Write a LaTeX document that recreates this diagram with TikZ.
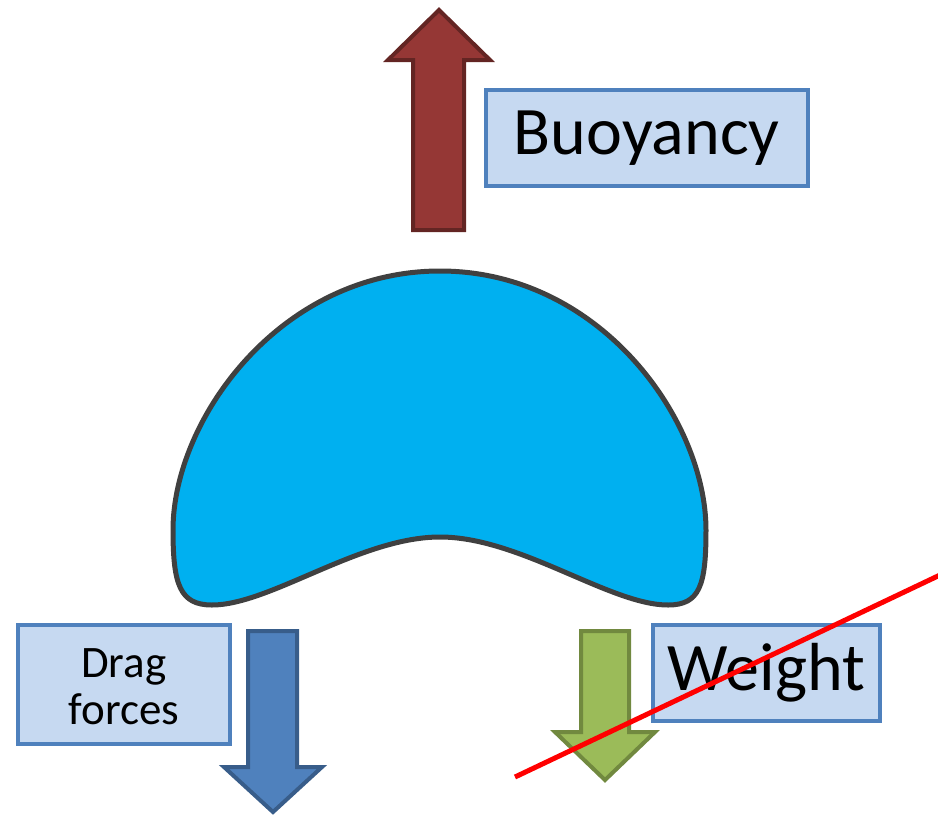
\documentclass[tikz,border=0pt]{standalone}
\usepackage{fontspec}
\setmainfont{Carlito}
\definecolor{boxfill}{HTML}{C6D9F1}
\definecolor{boxline}{HTML}{4F81BD}
\definecolor{redfill}{HTML}{953735}
\definecolor{redline}{HTML}{632523}
\definecolor{bluefill}{HTML}{4F81BD}
\definecolor{blueline}{HTML}{385D8A}
\definecolor{greenfill}{HTML}{9BBB59}
\definecolor{greenline}{HTML}{71893F}
\definecolor{blobfill}{HTML}{00B0F0}
\definecolor{blobline}{HTML}{404040}
\begin{document}
\begin{tikzpicture}[x=1pt,y=-1pt,
  labelbox/.style={draw=boxline,fill=boxfill,line width=3.5pt,inner sep=0pt,anchor=north west,align=center},
  bigarrow/.style={line width=4pt,line join=miter}]
\useasboundingbox (0,0) rectangle (938,815);
% blob
\draw[fill=blobfill,draw=blobline,line width=5pt]
  (440,271) .. controls (600,271) and (706,420) .. (706,530)
  .. controls (706,585) and (700,605) .. (668,605)
  .. controls (610,605) and (520,537) .. (440,537)
  .. controls (360,537) and (270,605) .. (212,605)
  .. controls (180,605) and (173,585) .. (173,530)
  .. controls (173,420) and (280,271) .. (440,271) -- cycle;
% buoyancy arrow
\draw[bigarrow,fill=redfill,draw=redline]
  (413,230) -- (413,60) -- (388,60) -- (439,10) -- (490,60) -- (464,60) -- (464,230) -- cycle;
% drag arrow
\draw[bigarrow,fill=bluefill,draw=blueline]
  (248,631) -- (297,631) -- (297,767) -- (322,767) -- (273,812) -- (224,767) -- (248,767) -- cycle;
% weight arrow
\draw[bigarrow,fill=greenfill,draw=greenline]
  (581,631) -- (629,631) -- (629,732) -- (655,732) -- (605,780) -- (555,732) -- (581,732) -- cycle;
% boxes
\node[labelbox,minimum width=322pt,minimum height=96pt] (buoy) at (484,88) {};
\node[font=\fontsize{68}{80}\selectfont] (buoyt) at (buoy.center) {Buoyancy};
\node[labelbox,minimum width=212pt,minimum height=119pt] (drag) at (16,623) {};
\node[font=\fontsize{45}{47}\selectfont,align=center] (dragt) at ([yshift=-2pt]drag.center) {Drag\\forces};
\node[labelbox,minimum width=227pt,minimum height=96pt] (weight) at (651,623) {};
\node[font=\fontsize{68}{80}\selectfont] (weightt) at (weight.center) {Weight};
% red line
\coordinate (ra) at (515,777);
\coordinate (rb) at (940,575);
\draw[red,line width=5pt] (ra) -- (rb);
\end{tikzpicture}
\end{document}
